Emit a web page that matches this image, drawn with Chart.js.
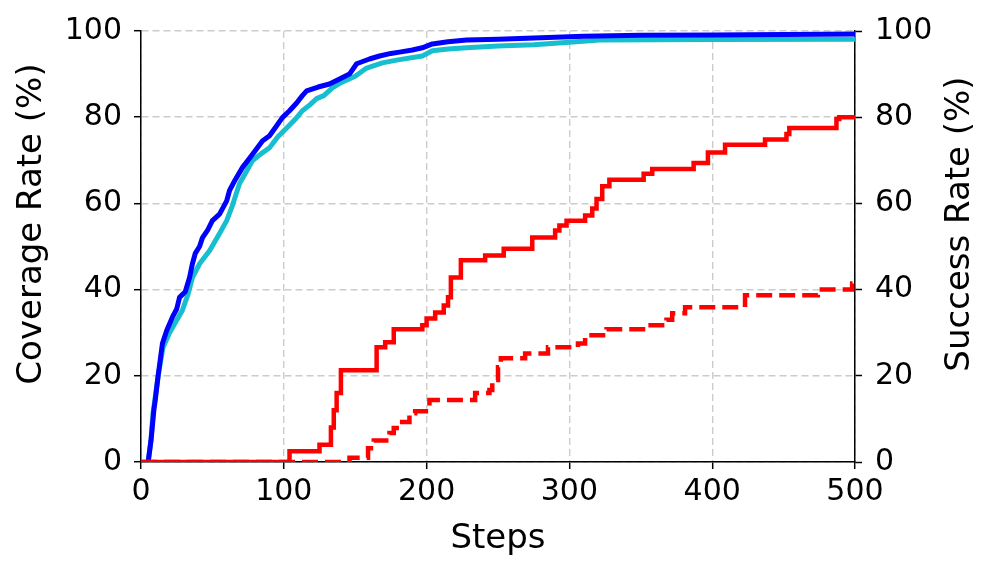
<!DOCTYPE html>
<html>
<head>
<meta charset="utf-8">
<script src="https://cdn.jsdelivr.net/npm/chart.js@4/dist/chart.umd.min.js"></script>
<style>
  body { margin: 0; background: #fff; }
  #wrap { width: 997px; height: 573px; }
</style>
</head>
<body>
<div id="wrap"><canvas id="chart" width="997" height="573"></canvas></div>
<script>
// coverage curves (left axis)
const blueSteps = [5, 7, 9, 10, 12, 15, 18, 22, 25, 27, 31, 34, 36, 38, 41, 43, 47, 50, 55, 60, 62, 66, 71, 76, 81, 85, 90, 95, 99, 104, 109, 113, 116, 124, 132, 138, 146, 151, 160, 167, 175, 181, 190, 197, 204, 215, 228, 250, 275, 310, 350, 400, 450, 500];
const blueCov = [0, 5, 12, 14.4, 20, 27.5, 30.5, 33.6, 35.5, 38.2, 39.5, 42.8, 46, 48.4, 50, 52, 54, 56, 57.5, 60.6, 63, 65.5, 68.3, 70.5, 72.7, 74.5, 75.7, 78, 79.9, 81.5, 83.3, 85, 86.1, 87, 87.7, 88.7, 90, 92.4, 93.5, 94.2, 94.8, 95.1, 95.6, 96.1, 97, 97.5, 97.9, 98.1, 98.4, 98.8, 99, 99.1, 99.2, 99.3];

const cyanSteps = [5, 7, 8.4, 12, 15.4, 20, 25, 29, 33, 36, 41, 48, 55, 60, 64, 69, 74, 78, 84, 90, 96, 102, 108, 113, 118, 123, 128, 134, 140, 150, 158, 169, 180, 197, 204, 215, 228, 250, 275, 300, 321, 400, 500];
const cyanCov = [0, 5, 11.3, 20, 26.6, 30, 32.9, 35.2, 39, 42.8, 46, 49, 53, 56, 59.5, 64.6, 67.5, 69.9, 71.5, 72.9, 75.5, 77.5, 79.5, 81.5, 82.8, 84.3, 85, 86.8, 88, 89.5, 91.4, 92.6, 93.3, 94.2, 95.4, 95.8, 96.1, 96.5, 96.8, 97.4, 97.9, 98, 98.1];

// success curves (right axis), value changes at each step
const redSteps = [0, 104, 125, 133, 135, 137, 140, 165, 171, 177, 197, 200, 206, 212, 215, 217, 224, 241, 254, 274, 290, 293, 298, 311, 316, 319, 323, 328, 352, 358, 387, 397, 409, 437, 452, 454, 487, 489, 500];
const redSucc = [0, 2.5, 4, 8, 12, 16, 21.3, 26.6, 27.8, 30.8, 31.7, 33.3, 34.7, 36.3, 38.2, 42.8, 46.8, 47.9, 49.5, 52.1, 53.7, 54.9, 56, 57.2, 58.8, 61, 64, 65.5, 66.9, 68, 69.4, 71.8, 73.6, 74.8, 76.1, 77.5, 79.6, 80, 80];

const dashSteps = [0, 146, 159, 163, 174, 177, 181, 188, 192, 202, 234, 244, 246, 250, 252, 269, 285, 306, 311, 326, 355, 368, 372, 381, 423, 474, 498, 500];
const dashSucc = [0, 1, 3.2, 5, 6.7, 7.9, 9.3, 11.3, 11.8, 14.4, 16, 16.7, 19, 22, 24.1, 25.2, 26.6, 27.5, 29.4, 30.8, 31.7, 33, 34.5, 35.9, 38.7, 40, 41.4, 41.4];

const xTicks = [0, 100, 200, 300, 400, 500];
const yTicks = [0, 20, 40, 60, 80, 100];

function pts(xs, ys) {
    return xs.map((x, i) => ({ x: x, y: ys[i] }));
}

const FONT = "'DejaVu Sans', sans-serif";

const yTitles = {
    id: "yTitles",
    afterDraw(c) {
        const ctx = c.ctx;
        ctx.save();
        ctx.font = "34px " + FONT;
        ctx.fillStyle = "#000";
        ctx.textAlign = "center";
        ctx.textBaseline = "middle";
        [[32, "Coverage Rate (%)"], [960, "Success Rate (%)"]].forEach(t => {
            ctx.save();
            ctx.translate(t[0], 224);
            ctx.rotate(-Math.PI / 2);
            ctx.fillText(t[1], 0, 0);
            ctx.restore();
        });
        ctx.restore();
    }
};

const tickFont = { family: FONT, size: 30 };

new Chart(document.getElementById("chart").getContext("2d"), {
    type: "line",
    data: {
        datasets: [
            {
                data: pts(redSteps, redSucc),
                yAxisID: "y1",
                borderColor: "#ff0000",
                borderWidth: 4.5,
                stepped: true,
                pointRadius: 0
            },
            {
                data: pts(dashSteps, dashSucc),
                yAxisID: "y1",
                borderColor: "#ff0000",
                borderWidth: 4.5,
                borderDash: [16, 7],
                stepped: true,
                pointRadius: 0
            },
            {
                data: pts(blueSteps, blueCov),
                yAxisID: "y",
                borderColor: "#0000ff",
                borderWidth: 5,
                borderJoinStyle: "round",
                pointRadius: 0
            },
            {
                data: pts(cyanSteps, cyanCov),
                yAxisID: "y",
                borderColor: "#17becf",
                borderWidth: 5,
                borderJoinStyle: "round",
                pointRadius: 0
            }
        ]
    },
    options: {
        responsive: false,
        animation: false,
        devicePixelRatio: 1,
        layout: { padding: { top: 30, left: 0, right: 0, bottom: 0 } },
        plugins: { legend: { display: false }, tooltip: { enabled: false } },
        scales: {
            x: {
                type: "linear",
                min: 0,
                max: 500,
                afterBuildTicks: s => { s.ticks = xTicks.map(v => ({ value: v })); },
                afterFit: s => { s.height = 111; },
                ticks: { font: tickFont, color: "#000", padding: 5, maxRotation: 0 },
                grid: { color: "#cccccc", lineWidth: 1.4, tickLength: 7, tickColor: "#000", tickWidth: 1.5 },
                border: { color: "#000", width: 1.5, dash: [7, 4] },
                title: { display: true, text: "Steps", font: { family: FONT, size: 34 }, color: "#000", padding: { top: 0, bottom: 13 } }
            },
            y: {
                position: "left",
                min: 0,
                max: 100,
                afterBuildTicks: s => { s.ticks = yTicks.map(v => ({ value: v })); },
                afterFit: s => { s.width = 141; },
                ticks: { font: tickFont, color: "#000", padding: 12 },
                grid: { color: "#cccccc", lineWidth: 1.4, tickLength: 7, tickColor: "#000", tickWidth: 1.5 },
                border: { color: "#000", width: 1.5, dash: [7, 4] }
            },
            y1: {
                position: "right",
                min: 0,
                max: 100,
                afterBuildTicks: s => { s.ticks = yTicks.map(v => ({ value: v })); },
                afterFit: s => { s.width = 142; },
                ticks: { font: tickFont, color: "#000", padding: 13 },
                grid: { drawOnChartArea: false, tickLength: 7, tickColor: "#000", tickWidth: 1.5 },
                border: { color: "#000", width: 1.5 }
            }
        }
    },
    plugins: [yTitles]
});
</script>
</body>
</html>
